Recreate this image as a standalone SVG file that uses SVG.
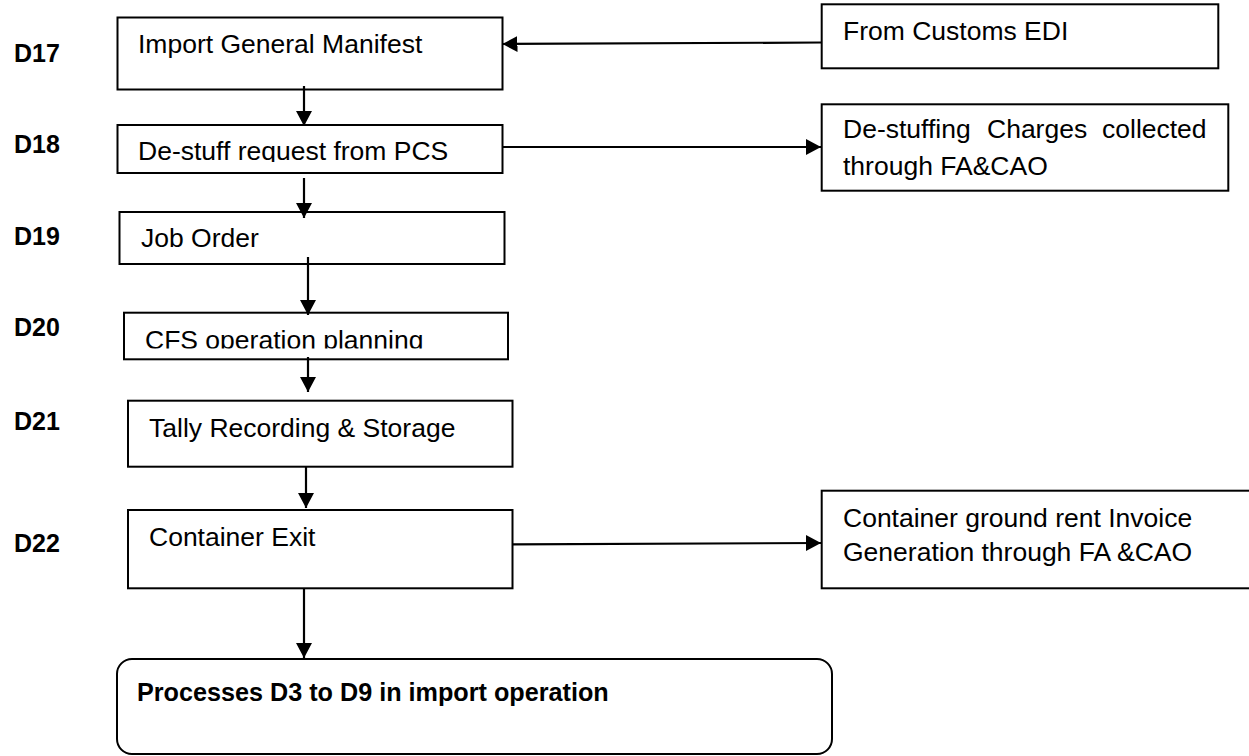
<svg xmlns="http://www.w3.org/2000/svg" width="1249" height="756" viewBox="0 0 1249 756">
<style>
.box{fill:#fff;stroke:#000;stroke-width:2}
.t{font-family:"Liberation Sans",Arial,sans-serif;font-size:26.5px;fill:#000}
.r{font-family:"Liberation Sans",Arial,sans-serif;font-size:26.5px;fill:#000}
.lbl{font-family:"Liberation Sans",Arial,sans-serif;font-size:25px;font-weight:bold;fill:#000}
.b{font-family:"Liberation Sans",Arial,sans-serif;font-size:25.2px;font-weight:bold;fill:#000}
.c{fill:none;stroke:#000;stroke-width:2.2}
</style>
<defs>
<marker id="ah" markerUnits="userSpaceOnUse" markerWidth="16" markerHeight="17" refX="15" refY="8" orient="auto">
<path d="M0,0 L15,8 L0,16 z" fill="#000"/>
</marker>
<clipPath id="clip2"><rect x="118" y="126" width="384" height="36"/></clipPath>
<clipPath id="clip4"><rect x="124" y="313" width="384" height="35.5"/></clipPath>
</defs>
<rect width="1249" height="756" fill="#fff"/>
<g id="labels">
<text class="lbl" x="14" y="62">D17</text>
<text class="lbl" x="14" y="153">D18</text>
<text class="lbl" x="14" y="245">D19</text>
<text class="lbl" x="14" y="336">D20</text>
<text class="lbl" x="14" y="430">D21</text>
<text class="lbl" x="14" y="552">D22</text>
</g>
<g id="n17">
<rect class="box" x="117.5" y="17.5" width="385" height="72"/>
<text class="t" x="138" y="53">Import General Manifest</text>
</g>
<g id="n18">
<rect class="box" x="117.5" y="125" width="385" height="48"/>
<text class="t" x="138" y="160" clip-path="url(#clip2)">De-stuff request from PCS</text>
</g>
<g id="n19">
<rect class="box" x="119.5" y="212" width="385" height="52"/>
<text class="t" x="141" y="247">Job Order</text>
</g>
<g id="n20">
<rect class="box" x="124" y="312.7" width="384" height="46.6"/>
<text class="t" x="145" y="349" clip-path="url(#clip4)">CFS operation planning</text>
</g>
<g id="n21">
<rect class="box" x="128" y="400.7" width="384.5" height="66"/>
<text class="t" x="149" y="436.7">Tally Recording &amp; Storage</text>
</g>
<g id="n22">
<rect class="box" x="128" y="510" width="384.5" height="78.3"/>
<text class="t" x="149" y="546">Container Exit</text>
</g>
<g id="edi">
<rect class="box" x="821.7" y="4.3" width="396.6" height="64"/>
<text class="r" x="843" y="40">From Customs EDI</text>
</g>
<g id="destuffcharges">
<rect class="box" x="821.7" y="104.3" width="406.6" height="86.4"/>
<text class="r" y="138"><tspan x="843">De-stuffing</tspan><tspan x="987">Charges</tspan><tspan x="1102">collected</tspan></text>
<text class="r" x="843" y="175">through FA&amp;CAO</text>
</g>
<g id="groundrent">
<rect class="box" x="821.7" y="490.7" width="440" height="97.6"/>
<text class="r" x="843" y="527">Container ground rent Invoice</text>
<text class="r" x="843" y="561">Generation through FA &amp;CAO</text>
</g>
<g id="importops">
<rect class="box" x="117" y="659" width="715" height="95" rx="15" ry="15"/>
<text class="b" x="137" y="701">Processes D3 to D9 in import operation</text>
</g>
<g id="connectors">
<line class="c" x1="304" y1="86" x2="304" y2="126" marker-end="url(#ah)"/>
<line class="c" x1="304" y1="178" x2="304" y2="218" marker-end="url(#ah)"/>
<line class="c" x1="308" y1="257" x2="308" y2="315" marker-end="url(#ah)"/>
<line class="c" x1="308" y1="357" x2="308" y2="392" marker-end="url(#ah)"/>
<line class="c" x1="306" y1="467" x2="306" y2="508" marker-end="url(#ah)"/>
<line class="c" x1="304" y1="589" x2="304" y2="658" marker-end="url(#ah)"/>
<line class="c" x1="822" y1="42.5" x2="502.5" y2="44" marker-end="url(#ah)"/>
<line class="c" x1="502.5" y1="147" x2="821" y2="147" marker-end="url(#ah)"/>
<line class="c" x1="512.5" y1="544.3" x2="821" y2="543" marker-end="url(#ah)"/>
</g>
</svg>
